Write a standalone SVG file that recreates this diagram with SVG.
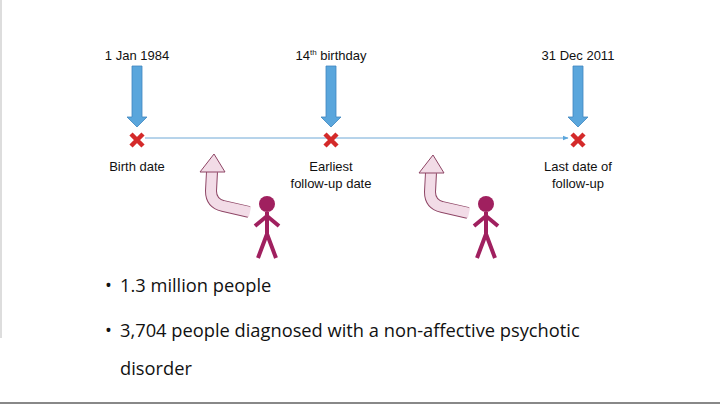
<svg xmlns="http://www.w3.org/2000/svg" width="720" height="404" viewBox="0 0 720 404">
<defs>
<style>
.lbl{font-family:"Liberation Sans",Arial,sans-serif;font-size:13px;fill:#111;text-anchor:middle}
.bul{font-family:"Open Sans","Noto Sans",sans-serif;font-size:18.3px;fill:#111}
.down{fill:#5aa6dc;stroke:#3f86bf;stroke-width:0.8}
.x{stroke:#d42a2a;stroke-width:4.5;stroke-linecap:butt}
.pf{fill:none;stroke:#a0205f;stroke-width:4;stroke-linecap:butt}
.co{fill:none;stroke:#8e4565;stroke-width:12}
.ci{fill:none;stroke:#f2dce7;stroke-width:10}
.ch{fill:#f2dce7;stroke:#8e4565;stroke-width:1}
</style>
<marker id="ah" viewBox="0 0 10 10" refX="9" refY="5" markerWidth="6" markerHeight="6" orient="auto"><path d="M0,1 L10,5 L0,9z" fill="#5aa6dc"/></marker>
<g id="downarrow"><path class="down" d="M-5,0 H5 V51 H10 L0,61 L-10,51 H-5 Z"/></g>
<g id="cross"><path class="x" d="M-6,-6 L6,6 M6,-6 L-6,6"/></g>
<g id="person"><circle cx="0" cy="0" r="8" fill="#a0205f"/><path class="pf" d="M0,8 V31 M-12,22 L0,12 L12,22 M0,30 L-9,54 M0,30 L9,54"/></g>
<g id="curve"><path class="co" d="M0,0 L-26,-6 Q-38,-9 -38,-21 L-37,-40"/><path class="ci" d="M1,0 L-26,-6 Q-38,-9 -38,-21 L-37,-41"/><path class="ch" d="M-49,-40 L-24,-40 L-35,-58 Z"/></g>
</defs>
<rect width="720" height="404" fill="#fff"/>
<line x1="1" y1="0" x2="1" y2="338" stroke="#ddd" stroke-width="2"/>
<line x1="0" y1="403" x2="720" y2="403" stroke="#888" stroke-width="2"/>
<g id="connectors">
<line x1="145" y1="138" x2="568" y2="138" stroke="#6fa8d6" stroke-width="1" marker-end="url(#ah)"/>
</g>
<g id="n1"><text class="lbl" x="137" y="60">1 Jan 1984</text><use href="#downarrow" x="137" y="66"/><use href="#cross" x="137" y="140"/><text class="lbl" x="137" y="171">Birth date</text></g>
<g id="n2"><text class="lbl" x="331" y="60">14<tspan font-size="8" dy="-5">th</tspan><tspan dy="5"> birthday</tspan></text><use href="#downarrow" x="331" y="66"/><use href="#cross" x="331" y="140"/><text class="lbl" x="331" y="171">Earliest</text><text class="lbl" x="331" y="188">follow-up date</text></g>
<g id="n3"><text class="lbl" x="578" y="60">31 Dec 2011</text><use href="#downarrow" x="578" y="66"/><use href="#cross" x="578" y="140"/><text class="lbl" x="578" y="171">Last date of</text><text class="lbl" x="578" y="188">follow-up</text></g>
<g id="p1"><use href="#curve" x="249" y="212"/><use href="#person" x="267" y="204"/></g>
<g id="p2"><use href="#curve" x="468" y="213"/><use href="#person" x="486" y="204"/></g>
<g id="bullets">
<text class="bul" x="105" y="292">•</text><text class="bul" x="120" y="292">1.3 million people</text>
<text class="bul" x="105" y="337">•</text><text class="bul" x="120" y="337">3,704 people diagnosed with a non-affective psychotic</text>
<text class="bul" x="120" y="375">disorder</text>
</g>
</svg>
